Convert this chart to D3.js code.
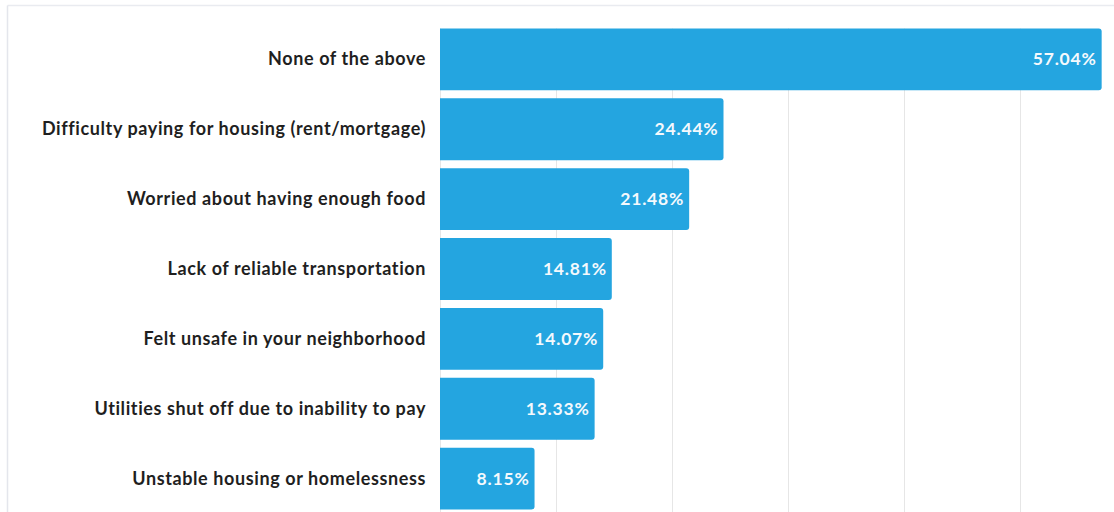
<!DOCTYPE html>
<html>
<head>
<meta charset="utf-8">
<script src="https://cdn.jsdelivr.net/npm/d3@7"></script>
<style>
  html, body { margin: 0; padding: 0; background: #fff; }
  svg { display: block; }
</style>
</head>
<body>
<svg id="chart" width="1114" height="512"></svg>
<script>
// Survey responses: share of respondents reporting each hardship
const categories = [
  "None of the above",
  "Difficulty paying for housing (rent/mortgage)",
  "Worried about having enough food",
  "Lack of reliable transportation",
  "Felt unsafe in your neighborhood",
  "Utilities shut off due to inability to pay",
  "Unstable housing or homelessness"
];
const values = [57.04, 24.44, 21.48, 14.81, 14.07, 13.33, 8.15];
const gridTicks = [0, 10, 20, 30, 40, 50, 60];

const W = 1114, H = 512;
const svg = d3.select("#chart");

// Panel frame (top and left edges)
svg.append("line").attr("x1", 7.5).attr("x2", W).attr("y1", 5.5).attr("y2", 5.5)
  .attr("stroke", "#e9ebf0").attr("stroke-width", 1.5);
svg.append("line").attr("x1", 7.5).attr("x2", 7.5).attr("y1", 5.5).attr("y2", H)
  .attr("stroke", "#e4e6ec").attr("stroke-width", 1.5);

const x = d3.scaleLinear().domain([0, 60]).range([440, 1136]);
const y = d3.scaleBand().domain(categories).range([24.5, 513.5])
  .paddingInner(0.115).paddingOuter(0.0575);

// Vertical gridlines
svg.append("g").selectAll("line").data(gridTicks).join("line")
  .attr("x1", d => Math.round(x(d)) + 0.5)
  .attr("x2", d => Math.round(x(d)) + 0.5)
  .attr("y1", y(categories[0]))
  .attr("y2", H)
  .attr("stroke", "#e6e6e6").attr("stroke-width", 1);

// Bars with rounded right end
const r = 3;
function barPath(d, i) {
  const x0 = x(0), x1 = x(d), y0 = y(categories[i]), h = y.bandwidth();
  return `M${x0},${y0} H${x1 - r} Q${x1},${y0} ${x1},${y0 + r} V${y0 + h - r} Q${x1},${y0 + h} ${x1 - r},${y0 + h} H${x0} Z`;
}
svg.append("g").selectAll("path").data(values).join("path")
  .attr("d", barPath)
  .attr("fill", "#24a5e0");

// Category labels
svg.append("g").selectAll("text").data(categories).join("text")
  .attr("x", 426)
  .attr("y", d => y(d) + y.bandwidth() / 2)
  .attr("dy", "0.33em")
  .attr("text-anchor", "end")
  .attr("font-family", "Lato, 'Open Sans', sans-serif")
  .attr("font-weight", 700)
  .attr("font-size", 18)
  .attr("letter-spacing", 0.6)
  .attr("fill", "#1f1f1f")
  .text(d => d);

// Value labels inside bars
svg.append("g").selectAll("text").data(values).join("text")
  .attr("x", d => x(d) - 5)
  .attr("y", (d, i) => y(categories[i]) + y.bandwidth() / 2)
  .attr("dy", "0.34em")
  .attr("text-anchor", "end")
  .attr("font-family", "Lato, 'Open Sans', sans-serif")
  .attr("font-weight", 700)
  .attr("font-size", 17.5)
  .attr("letter-spacing", 0.8)
  .attr("fill", "#f4f9fd")
  .text(d => d.toFixed(2) + "%");
</script>
</body>
</html>
